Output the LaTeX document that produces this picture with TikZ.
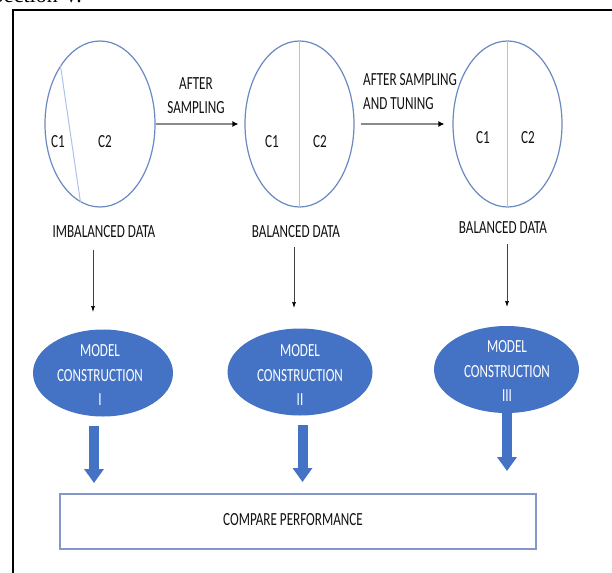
\documentclass[tikz,border=0pt]{standalone}
\usepackage{fontspec}
\setmainfont{Liberation Serif}
\newfontfamily\lab{Carlito}[FakeStretch=0.71]
\usetikzlibrary{shapes.geometric,arrows.meta}
\definecolor{ofblue}{HTML}{4472C4}
\definecolor{cline}{HTML}{6A88C2}
\definecolor{dline}{HTML}{AFC2E6}
\definecolor{txt}{HTML}{111111}
\definecolor{harrow}{HTML}{8A8A8A}
\definecolor{boxline}{HTML}{8497C8}
\begin{document}
\begin{tikzpicture}[x=1pt,y=-1pt,
  lbl/.style={font=\lab\fontsize{18.5}{24.5}\selectfont, text=txt, inner sep=0pt, align=center},
  wlbl/.style={lbl, text=white},
  cls/.style={draw=cline, line width=1.2pt, ellipse, minimum width=109pt, minimum height=166pt, inner sep=0pt},
  divl/.style={draw=dline, line width=1pt},
  model/.style={ellipse, fill=ofblue, draw=none, minimum width=145pt, minimum height=87pt, inner sep=0pt},
  harr/.style={draw=harrow, line width=1.5pt, -{Latex[length=6pt,width=6pt,color=black]}},
  varr/.style={draw=txt!80, line width=0.7pt, -{Latex[length=6pt,width=4pt,color=black]}},
  blk/.style={draw=ofblue, line width=10pt, -{Triangle[width=19pt,length=14pt]}},
]
\useasboundingbox (0,0) rectangle (612,572);
\clip (0,0) rectangle (612,572);

% cropped caption text at the top
\node[anchor=base east, inner sep=0pt, font=\fontsize{22}{26}\selectfont] (cap) at (82,3) {Section V.};

% frame (top and left edges)
\coordinate (ftl) at (13,10);
\coordinate (ftr) at (613,10);
\coordinate (fbl) at (13,573);
\draw[line width=1.3pt] (ftr) -- (ftl) -- (fbl);

% class circles
\node[cls, minimum width=110pt] (c1) at (100,124) {};
\node[cls] (c2) at (299.5,124) {};
\node[cls] (c3) at (507.5,124) {};
\draw[divl] (c1.124) -- (c1.256);
\draw[divl] (c2.north) -- (c2.south);
\draw[divl] (c3.north) -- (c3.south);

\node[lbl] (c1a) at (58,142) {C1};
\node[lbl] (c1b) at (105,142) {C2};
\node[lbl] (c2a) at (272,142) {C1};
\node[lbl] (c2b) at (320,142) {C2};
\node[lbl] (c3a) at (483,138) {C1};
\node[lbl] (c3b) at (528,138) {C2};

% transitions
\draw[harr, shorten >=6pt] (c1.east) -- (c2.west);
\draw[harr, shorten <=6pt, shorten >=8pt] (c2.east) -- (c3.west);
\node[lbl] (t1) at (196,95.5) {AFTER\\SAMPLING};
\node[lbl, anchor=west, align=left] (t2) at (363,91.5) {AFTER SAMPLING\\AND TUNING};

% data labels
\node[lbl] (d1) at (104,232) {IMBALANCED DATA};
\node[lbl] (d2) at (296,232) {BALANCED DATA};
\node[lbl] (d3) at (503,228) {BALANCED DATA};

% model construction ellipses
\node[model, minimum width=140pt] (m1) at (103,373) {};
\node[model] (m2) at (300,372) {};
\node[model] (m3) at (506.5,369.5) {};
\node[wlbl] (m1t) at (100,375) {MODEL\\CONSTRUCTION\\I};
\node[wlbl] (m2t) at (300,375) {MODEL\\CONSTRUCTION\\II};
\node[wlbl] (m3t) at (507,371) {MODEL\\CONSTRUCTION\\III};

% thin arrows from data labels to models
\coordinate (v1s) at (93,250);
\coordinate (v1e) at (93,312);
\coordinate (v2s) at (294,247);
\coordinate (v2e) at (294,308);
\coordinate (v3s) at (507,244);
\coordinate (v3e) at (507,307);
\draw[varr] (v1s) -- (v1e);
\draw[varr] (v2s) -- (v2e);
\draw[varr] (v3s) -- (v3e);

% compare performance box
\node[draw=boxline, line width=1.2pt, minimum width=476pt, minimum height=55pt, inner sep=0pt] (cmp) at (298,521.5) {};
\node[lbl] (cmpt) at (293,520) {COMPARE PERFORMANCE};

% block arrows
\coordinate (b1s) at (94,426);
\coordinate (b1e) at (94,483);
\coordinate (b2s) at (302.5,425);
\coordinate (b2e) at (302.5,482);
\coordinate (b3s) at (507,413);
\coordinate (b3e) at (507,471);
\draw[blk] (b1s) -- (b1e);
\draw[blk] (b2s) -- (b2e);
\draw[blk] (b3s) -- (b3e);
\end{tikzpicture}
\end{document}
